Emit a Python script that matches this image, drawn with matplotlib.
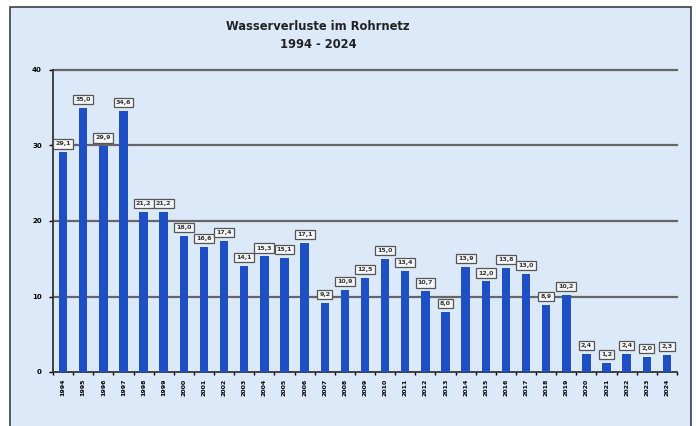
import matplotlib
matplotlib.use("Agg")
import matplotlib.pyplot as plt
from matplotlib.patches import Rectangle

years = [str(y) for y in range(1994, 2025)]
values = [29.1, 35.0, 29.9, 34.6, 21.2, 21.2, 18.0, 16.6, 17.4, 14.1, 15.3, 15.1,
          17.1, 9.2, 10.9, 12.5, 15.0, 13.4, 10.7, 8.0, 13.9, 12.0, 13.8, 13.0,
          8.9, 10.2, 2.4, 1.2, 2.4, 2.0, 2.3]
yticks = [0, 10, 20, 30, 40]
title = "Wasserverluste im Rohrnetz\n1994 - 2024"

W, H = 696, 426
fig = plt.figure(figsize=(W / 100, H / 100), dpi=100)
fig.patch.set_facecolor("white")
bg = "#dce9f8"
fig.patches.append(Rectangle((10 / W, -0.05), (691 - 10) / W, 1.05 - 7 / H,
                             transform=fig.transFigure, facecolor=bg,
                             edgecolor="#3a3f45", linewidth=1.2, zorder=-10))

ax = fig.add_axes([53 / W, 1 - 372 / H, (677 - 53) / W, (372 - 70) / H])
ax.set_facecolor(bg)
x = list(range(len(years)))
ax.bar(x, values, width=0.42, color="#1f4fc4", zorder=3)
ax.set_xlim(-0.5, len(years) - 0.5)
ax.set_ylim(0, 40)
ax.set_yticks(yticks)
ax.set_yticklabels([str(t) for t in yticks], fontsize=5, fontweight="bold")
ax.set_xticks(x)
ax.set_xticklabels(years, rotation=90, fontsize=4.5, fontweight="bold")
ax.tick_params(axis="x", length=0, pad=5)
ax.tick_params(axis="y", length=3, width=1, pad=5)
ax.set_xticks([i - 0.5 for i in range(len(years) + 1)], minor=True)
ax.tick_params(axis="x", which="minor", length=2, width=1)
for t in yticks[1:]:
    ax.axhline(t, color="#666666", linewidth=1.6, zorder=1, clip_on=False)
for s in ["top", "right"]:
    ax.spines[s].set_visible(False)
ax.spines["left"].set_color("#333333")
ax.spines["left"].set_linewidth(1.3)
ax.spines["bottom"].set_color("#333333")
ax.spines["bottom"].set_linewidth(1.3)

for xi, v in zip(x, values):
    ax.annotate(f"{v:.1f}".replace(".", ","), (xi, v), xytext=(0, 6),
                textcoords="offset points", ha="center", va="center",
                fontsize=4.5, fontweight="bold", color="#333333", zorder=5,
                bbox=dict(boxstyle="square,pad=0.35", facecolor="#f4f6f8",
                          edgecolor="#555555", linewidth=0.9))

fig.text(318 / W, 1 - 35 / H, title, ha="center", va="center", fontsize=8.3,
         fontweight="bold", color="#222222", linespacing=1.5)

fig.savefig("out.png", dpi=100)
